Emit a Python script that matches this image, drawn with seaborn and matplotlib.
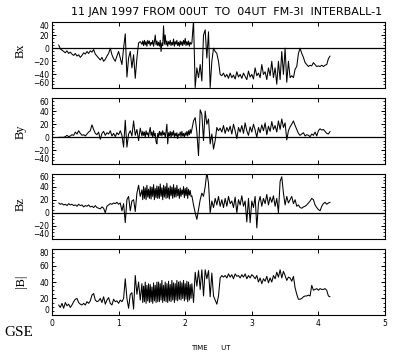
import numpy as np
import pandas as pd
import matplotlib
matplotlib.use("Agg")
import matplotlib.pyplot as plt
from matplotlib.ticker import MultipleLocator
import seaborn as sns

# magnetometer samples: 0.025 h cadence, with a finer
# 0.0125 h stretch between 1.35 and 2.1 UT where the signal is very busy
seg_a = (0.1, 0.025, 50)
seg_b = (1.35, 0.0125, 60)
seg_c = (2.1, 0.025, 84)

bx = [5, -1, -3, -5, -7, -4, -8, -6, -9, -11,
      -8, -12, -10, -14, -11, -7, -9, -5, -8, -4,
      -6, -2, -9, -12, -15, -18, -14, -20, -17, -12,
      -8, 0, -10, -16, -20, -12, -5, -15, -25, 0,
      22, -44, -15, -5, -30, -10, -46, -15, 8, 10,
      # 1.35 - 2.0875 (fine)
      6, 11, 4, 12, 5, 10, 3, 12, 7, 11,
      4, 9, 6, 12, 3, 10, 20, 5, 11, 4,
      9, 3, 12, -5, 8, 4, 34, 6, 20, 5,
      11, 3, 10, 6, 12, 4, 9, 5, 14, 3,
      10, 6, 12, 4, 9, 3, 11, 5, 10, 4,
      12, 6, 15, 4, 10, 5, 11, 3, 9, 6,
      # 2.1 - 4.175
      8, 42, -60, -30, -45, -25, -50, 20, 28, -15,
      25, -60, -20, 0, -5, -8, -20, -40, -42, -38,
      -44, -40, -46, -38, -45, -41, -47, -36, -44, -40,
      -46, -38, -43, -48, -35, -44, -40, -47, -30, -42,
      -38, -45, -25, -40, -36, -48, -30, -42, -20, -45,
      -30, -55, -20, -48, -5, -40, 0, -52, -20, -45,
      -42, -45, -32, -28, -8, 0, -8, -14, -22, -25,
      -28, -26, -27, -22, -25, -28, -27, -28, -26, -28,
      -26, -25, -16, -12]

by = [0, 0, 0, 0, 1, 3, 1, 2, 4, 3,
      8, 5, 10, 6, 3, 4, 2, 5, 8, 10,
      19, 12, 6, 4, 8, -3, 6, 9, 3, 7,
      5, 10, 2, 6, 1, 7, 4, 10, 3, -15,
      26, -15, 5, 10, 2, 25, 3, 12, -5, 14,
      2, 9, 3, 8, 0, 10, 4, 7, 1, 9,
      15, 3, 8, 0, 10, 2, 6, -7, -10, 6,
      1, 9, 3, 8, 2, 10, 4, 7, 0, 9,
      20, -10, 7, 2, 9, 0, 8, 3, 10, 1,
      6, 2, 7, -2, 5, 3, 8, 1, 9, 2,
      6, 0, 7, 3, 9, 2, 10, 4, 12, 6,
      12, 25, 30, 8, -28, 42, 35, -5, 40, 20,
      28, -10, 5, -18, -5, 15, 10, 14, 8, 18,
      6, 15, 9, 17, 5, 20, 10, -2, 15, 8,
      18, 6, 22, 10, 3, 16, 8, 20, 11, 0,
      15, 7, 19, 10, 22, 4, 17, 9, 24, 12,
      18, 8, 25, 12, 28, 15, 22, -4, 10, 16,
      20, 25, 18, 12, 6, 3, 5, 7, 2, 4,
      3, 1, 5, 3, 8, 2, 10, 13, 11, 12,
      9, 6, 5, 9]

bz = [15, 13, 14, 12, 13, 11, 14, 12, 13, 11,
      12, 10, 13, 11, 12, 9, 11, 10, 12, 9,
      10, 8, 11, 8, 7, 6, 9, 7, 0, 10,
      12, 14, 13, 15, 14, 16, 13, 15, 3, 14,
      -15, 20, 25, 3, 18, 20, 2, 30, 42, 25,
      35, 20, 40, 22, 38, 20, 42, 24, 36, 22,
      40, 21, 39, 25, 43, 20, 37, 23, 41, 22,
      40, 22, 44, 25, 38, 20, 42, 24, 40, 22,
      45, 23, 38, 21, 41, 26, 39, 22, 43, 24,
      38, 24, 42, 26, 36, 22, 38, 25, 35, 28,
      40, 23, 37, 26, 39, 22, 36, 27, 34, 25,
      26, 12, 0, -10, 5, 20, 30, 25, 40, 62,
      45, 0, 18, 8, 22, 12, 25, 10, 20, 8,
      22, 10, 25, 14, 18, 8, 24, 0, 20, 12,
      26, 10, 18, -14, 22, -15, 18, 8, 25, -23,
      15, 25, 10, 22, 14, 28, 12, 24, 16, 26,
      10, 22, 0, 48, 55, 30, 12, 25, 15, 20,
      25, 14, 20, 10, 12, 8, 7, 9, 10, 12,
      15, 18, 22, 20, 12, 8, 5, 3, 10, 14,
      16, 13, 15, 16]

bmag = [12, 9, 14, 8, 15, 11, 13, 9, 12, 16,
        19, 20, 15, 13, 12, 14, 12, 16, 14, 17,
        24, 26, 18, 16, 17, 20, 15, 22, 13, 18,
        21, 14, 12, 19, 16, 17, 14, 18, 16, 20,
        44, 20, 8, 25, 27, 7, 48, 25, 40, 18,
        38, 15, 35, 16, 40, 14, 36, 17, 38, 15,
        37, 16, 34, 14, 39, 17, 36, 15, 40, 16,
        40, 16, 38, 18, 42, 15, 36, 17, 40, 16,
        38, 15, 41, 17, 37, 16, 42, 18, 39, 15,
        38, 18, 42, 17, 40, 19, 41, 18, 39, 20,
        42, 17, 38, 19, 41, 16, 40, 18, 37, 20,
        38, 15, 52, 35, 54, 31, 55, 23, 55, 44,
        54, 22, 51, 23, 18, 13, 23, 45, 48, 46,
        48, 45, 50, 46, 49, 44, 50, 47, 48, 45,
        49, 46, 50, 44, 48, 45, 49, 47, 44, 48,
        40, 45, 38, 44, 41, 47, 39, 45, 40, 48,
        44, 52, 46, 55, 45, 53, 48, 42, 46, 45,
        41, 47, 33, 25, 19, 19, 20, 22, 23, 23,
        24, 23, 36, 30, 31, 32, 30, 32, 31, 31,
        32, 30, 23, 22]

labels = ["Bx", "By", "Bz", "|B|"]
ylims = [(-60, 40), (-40, 60), (-40, 60), (0, 80)]
title = "11 JAN 1997 FROM 00UT  TO  04UT  FM-3I  INTERBALL-1"

time = np.concatenate([t0 + dt * np.arange(n) for t0, dt, n in (seg_a, seg_b, seg_c)])

sns.set_theme(style="ticks")
plt.rcParams["font.family"] = ["DejaVu Sans"]

W, H = 400, 355
fig = plt.figure(figsize=(W / 100, H / 100), dpi=100)
fig.patch.set_facecolor("white")

left, right = 52, 385
tops = [22, 98, 173.5, 249.3]
ph = 65.5

series = [bx, by, bz, bmag]
for k, vals in enumerate(series):
    df = pd.DataFrame({"time": time, "value": vals})
    ax = fig.add_axes([left / W, 1 - (tops[k] + ph) / H, (right - left) / W, ph / H])
    ax.set_facecolor("white")
    sns.lineplot(data=df, x="time", y="value", ax=ax, color="black",
                 linewidth=0.75, estimator=None, sort=False)
    lo, hi = ylims[k]
    if lo < 0:
        ax.axhline(0, color="black", linewidth=0.9)
    ax.set_xlim(0, 5)
    ax.set_ylim(lo, hi)
    ax.set_xlabel("")
    ax.set_ylabel("")
    ax.xaxis.set_major_locator(MultipleLocator(1))
    ax.set_yticks(np.arange(lo, hi + 1, 20))
    ax.yaxis.set_minor_locator(MultipleLocator(5))
    ax.tick_params(axis="both", which="both", direction="in", top=True, right=True,
                   color="black", labelsize=5.5, labelcolor="black")
    ax.tick_params(axis="both", which="major", length=3, width=0.7)
    ax.tick_params(axis="y", which="minor", length=1.5, width=0.6)
    ax.tick_params(axis="y", pad=1.8)
    ax.tick_params(axis="x", pad=3)
    for sp in ax.spines.values():
        sp.set_color("black")
        sp.set_linewidth(0.8)
    ytl = ax.get_yticklabels()
    ytl[0].set_va("bottom")
    ytl[-1].set_va("top")
    if k < 3:
        ax.set_xticklabels([])

# panel labels
label_y = [51, 132, 204.5, 281.7]
for lab, yy in zip(labels, label_y):
    fig.text(21 / W, 1 - yy / H, lab, rotation=90, ha="center", va="center",
             fontsize=9, family="Liberation Serif", color="black")

fig.text(382 / W, 1 - 12 / H, title, ha="right", va="center", fontsize=8, color="black")
fig.text(211 / W, 1 - 348.5 / H, "TIME      UT", ha="center", va="center", fontsize=5, color="black")
fig.text(19 / W, 1 - 333 / H, "GSE", ha="center", va="center", fontsize=11,
         family="Liberation Serif", color="black")

fig.savefig("out.png", dpi=100, facecolor="white")
